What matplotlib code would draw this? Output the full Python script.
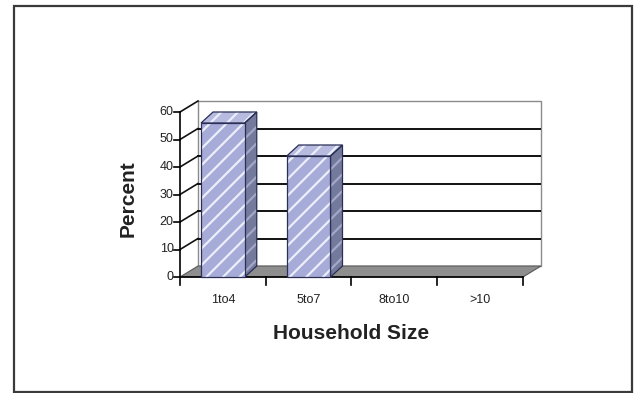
import matplotlib.pyplot as plt
from matplotlib.patches import Polygon, Rectangle

plt.rcParams['font.family'] = ['Liberation Sans', 'DejaVu Sans']
plt.rcParams['hatch.linewidth'] = 1.6

categories = ["1to4", "5to7", "8to10", ">10"]
percent = [56, 44, 0, 0]
yticks = [0, 10, 20, 30, 40, 50, 60]

# oblique depth of the plot box (category units, percent units)
DX, DY = 0.21, 4.0
# depth of each column and its front width
BDX, BDY = 0.14, 4.0
BW = 0.51

fig = plt.figure(figsize=(6.36, 3.93), dpi=100)
ax = fig.add_axes([180 / 636, 116 / 393, 361 / 636, 176 / 393])
n = len(categories)
ax.set_xlim(0, n + DX)
ax.set_ylim(0, yticks[-1] + DY)
ax.axis('off')

def face(pts, fc, hc, z):
    # hatched fill first, dark outline on top
    ax.add_patch(Polygon(pts, closed=True, facecolor=fc, edgecolor=hc,
                         hatch='//', lw=0, zorder=z, clip_on=False))
    ax.add_patch(Polygon(pts, closed=True, fill=False, edgecolor='#2a2f55',
                         lw=0.9, zorder=z + 0.1, clip_on=False))

# back wall
top = yticks[-1]
ax.add_patch(Polygon([(DX, DY), (n + DX, DY), (n + DX, top + DY), (DX, top + DY)],
                     closed=True, facecolor='white', edgecolor='#8a8a8a',
                     lw=1.0, zorder=1, clip_on=False))
for v in yticks[1:-1]:
    ax.plot([DX, n + DX], [v + DY, v + DY], color='#111111', lw=1.4, zorder=2)
# side wall lines from the value axis to the back wall
for v in yticks[1:]:
    ax.plot([0, DX], [v, v + DY], color='#111111', lw=1.2, zorder=2, clip_on=False)

# floor
ax.add_patch(Polygon([(0, 0), (n, 0), (n + DX, DY), (DX, DY)], closed=True,
                     facecolor='#8e8e8e', edgecolor='#5a5a5a', lw=0.8, zorder=3,
                     clip_on=False))

# value axis with ticks
ax.plot([0, 0], [0, top], color='black', lw=1.2, zorder=6, clip_on=False)
for v in yticks:
    ax.plot([-0.07, 0], [v, v], color='black', lw=1.2, zorder=6, clip_on=False)
    ax.text(-0.075, v, str(v), ha='right', va='center', fontsize=9, color='#222222')

# category axis with ticks
ax.plot([0, n], [0, 0], color='black', lw=1.2, zorder=6, clip_on=False)
for i in range(n + 1):
    ax.plot([i, i], [0, -3], color='black', lw=1.2, zorder=6, clip_on=False)
for i, c in enumerate(categories):
    ax.text(i + 0.5, -8.3, c, ha='center', va='center', fontsize=9, color='#222222')

# columns
for i, v in enumerate(percent):
    if v <= 0:
        continue
    x0, x1 = i + 0.5 - BW / 2, i + 0.5 + BW / 2
    face([(x1, 0), (x1 + BDX, BDY), (x1 + BDX, v + BDY), (x1, v)], '#737a9c', '#a3a8c8', 7)
    face([(x0, v), (x1, v), (x1 + BDX, v + BDY), (x0 + BDX, v + BDY)], '#b7bbe0', '#eceef9', 7)
    face([(x0, 0), (x1, 0), (x1, v), (x0, v)], '#a6abd8', '#eceef9', 8)

ax.text(-0.61, 28.5, "Percent", rotation=90, ha='center', va='center',
        fontsize=15, fontweight='bold', color='#222222')
ax.text(2.0, -20.5, "Household Size", ha='center', va='center',
        fontsize=15, fontweight='bold', color='#222222')

# outer frame
fig.patches.append(Rectangle((14 / 636, 1 / 393), 618 / 636, 386 / 393,
                             transform=fig.transFigure, fill=False,
                             edgecolor='#3a3a3a', lw=1.6))

fig.savefig("out.png", dpi=100)
